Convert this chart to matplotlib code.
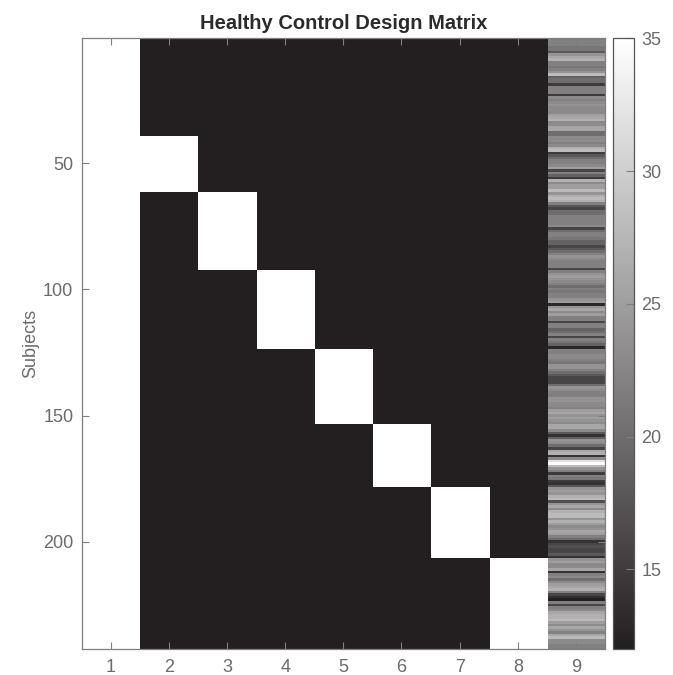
import numpy as np
import matplotlib
matplotlib.use("Agg")
import matplotlib.pyplot as plt
from matplotlib.colors import LinearSegmentedColormap

plt.rcParams['font.family'] = ['Liberation Sans', 'DejaVu Sans']

# Subjects per acquisition site; the first group is the reference site
# and gets no indicator column of its own.
site_sizes = [39, 22, 31, 31, 30, 25, 28, 36]

# Age of every subject, in row order
ages = [
    22, 22, 22, 21, 21, 18, 24, 26, 27, 22,
    22, 21, 22, 24, 28, 19, 20, 20, 15, 22,
    22, 22, 15, 23, 22, 23, 24, 23, 23, 23,
    25, 26, 27, 23, 23, 26, 26, 20, 20, 23,
    23, 22, 23, 27, 28, 15, 18, 20, 22, 22,
    23, 25, 16, 22, 19, 15, 27, 23, 25, 25,
    28, 24, 27, 28, 27, 22, 18, 16, 20, 20,
    22, 22, 22, 22, 23, 16, 20, 22, 22, 21,
    19, 19, 16, 18, 20, 22, 24, 23, 22, 22,
    22, 16, 22, 24, 25, 24, 23, 22, 20, 22,
    21, 22, 22, 24, 25, 13, 24, 26, 23, 25,
    22, 22, 16, 22, 22, 19, 20, 22, 16, 22,
    21, 19, 13, 22, 22, 23, 23, 22, 21, 24,
    24, 22, 20, 18, 16, 16, 16, 20, 24, 23,
    22, 22, 24, 24, 23, 23, 22, 25, 26, 24,
    25, 24, 23, 26, 26, 23, 18, 14, 19, 24,
    23, 20, 16, 26, 27, 14, 23, 32, 35, 28,
    24, 22, 15, 22, 21, 15, 14, 18, 24, 25,
    24, 27, 28, 17, 24, 26, 23, 27, 28, 28,
    24, 27, 25, 23, 24, 26, 25, 22, 20, 14,
    16, 17, 16, 16, 18, 14, 24, 25, 23, 23,
    26, 14, 22, 23, 20, 23, 25, 26, 27, 22,
    16, 14, 12, 22, 16, 22, 23, 26, 27, 27,
    28, 25, 23, 26, 24, 22, 26, 28, 23, 23, 22, 22,
]

column_labels = ['1', '2', '3', '4', '5', '6', '7', '8', '9']
subject_ticks = [50, 100, 150, 200]
colorbar_ticks = [15, 20, 25, 30, 35]

# ---- build the design matrix -------------------------------------------
age = np.asarray(ages, dtype=float)
n_subj = age.size
vmin, vmax = age.min(), age.max()

site = np.repeat(np.arange(len(site_sizes)), site_sizes)
onehot = np.zeros((n_subj, len(site_sizes)))
onehot[:, 0] = 1.0                                   # intercept
for k in range(1, len(site_sizes)):
    onehot[site == k, k] = 1.0

design = np.empty((n_subj, 9))
design[:, :8] = vmin + onehot * (vmax - vmin)         # indicators shown at the colour limits
design[:, 8] = age

# ---- draw ----------------------------------------------------------------
W, H = 673, 675
fig = plt.figure(figsize=(W / 100, H / 100), dpi=100)
fig.patch.set_facecolor('white')

ax_l, ax_r, ax_t, ax_b = 81.7, 605.0, 38.3, 649.0
ax = fig.add_axes([ax_l / W, 1 - ax_b / H, (ax_r - ax_l) / W, (ax_b - ax_t) / H])

cmap = LinearSegmentedColormap.from_list('grey_ink', ['#231f20', '#ffffff'])
im = ax.imshow(design, cmap=cmap, vmin=vmin, vmax=vmax, aspect='auto',
               interpolation='nearest',
               extent=(0.5, 9.5, n_subj + 0.5, 0.5))

axis_grey = '#7f7f7f'
text_grey = '#6b6b6b'

ax.set_xticks(range(1, 10))
ax.set_xticklabels(column_labels)
ax.set_yticks(subject_ticks)
ax.tick_params(direction='in', length=5, width=0.8, color=axis_grey,
               labelcolor=text_grey, labelsize=13, top=True, right=True)
ax.tick_params(axis='x', pad=7)
ax.tick_params(axis='y', pad=6)
for s in ax.spines.values():
    s.set_color(axis_grey)
    s.set_linewidth(0.9)

ax.set_ylabel('Subjects', color=text_grey, fontsize=13)
ax.yaxis.set_label_coords(-0.082, 0.5)
ax.set_title('Healthy Control Design Matrix', fontsize=14.5, fontweight='bold',
             color='#2b2b2b', pad=7)

cb_l, cb_r = 613.3, 634.3
cax = fig.add_axes([cb_l / W, 1 - ax_b / H, (cb_r - cb_l) / W, (ax_b - ax_t) / H])
cb = fig.colorbar(im, cax=cax, ticks=colorbar_ticks)
cb.outline.set_edgecolor('#555555')
cb.outline.set_linewidth(0.9)
cax.tick_params(direction='in', length=6, width=0.8, color=axis_grey,
                labelcolor=text_grey, labelsize=13, pad=5)

fig.savefig('out.png', dpi=100, facecolor='white')
